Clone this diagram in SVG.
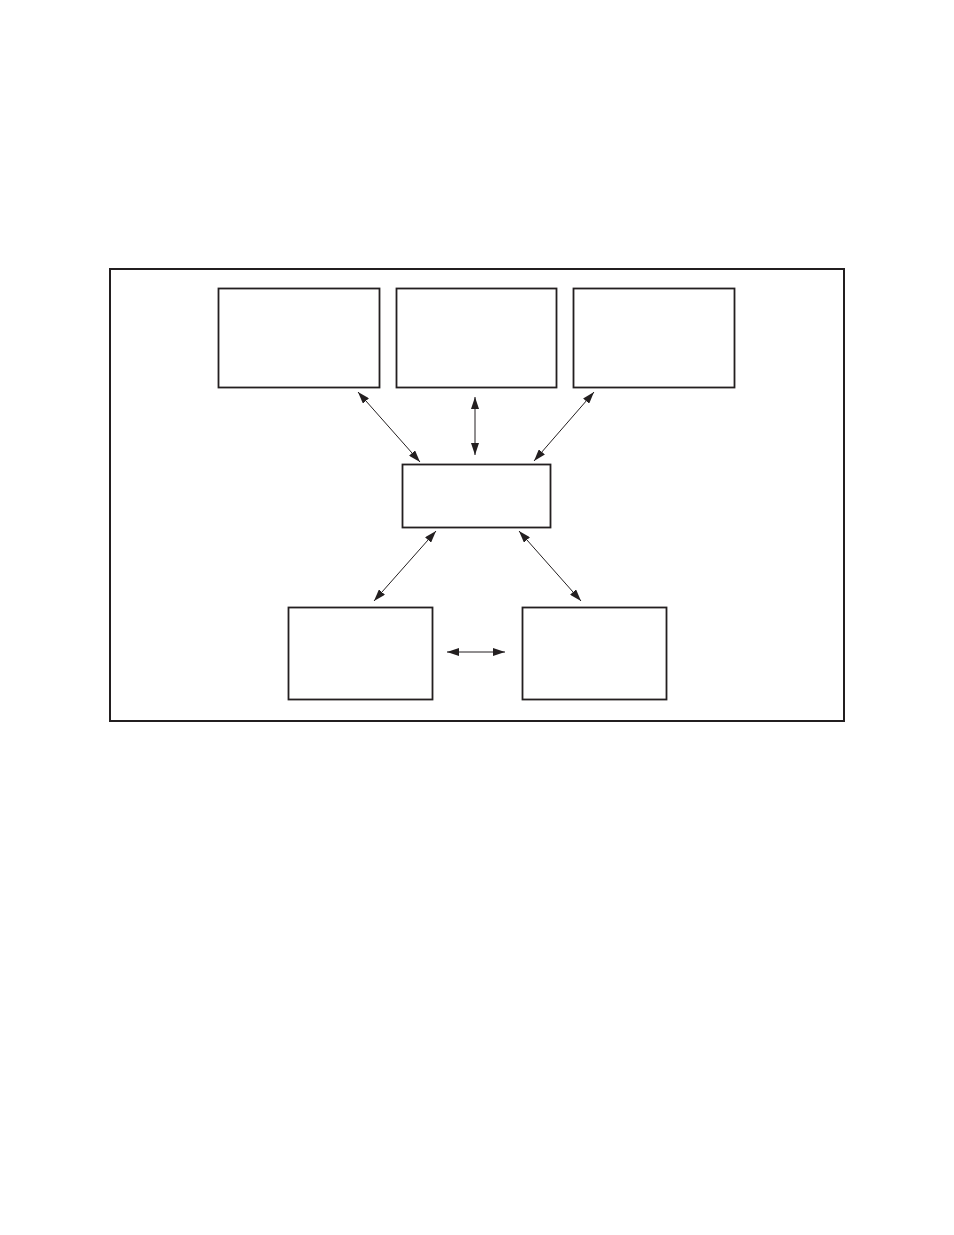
<svg xmlns="http://www.w3.org/2000/svg" width="954" height="1235" viewBox="0 0 954 1235">
<style>
.frame{fill:none;stroke:#231f20;stroke-width:2}
.box{fill:#fff;stroke:#231f20;stroke-width:1.8}
.conn{fill:none;stroke:#231f20;stroke-width:1;marker-start:url(#ah);marker-end:url(#ah)}
</style>
<defs>
<marker id="ah" viewBox="0 0 12 8" refX="12" refY="4" markerWidth="12" markerHeight="8" markerUnits="userSpaceOnUse" orient="auto-start-reverse">
<path d="M0,0 L12,4 L0,8 Z" fill="#231f20"/>
</marker>
</defs>
<rect width="954" height="1235" fill="#fff"/>
<rect id="frame" class="frame" x="110" y="269" width="734" height="452"/>
<g id="node-top-left"><rect class="box" x="218.5" y="288.5" width="161" height="99"/></g>
<g id="node-top-center"><rect class="box" x="396.5" y="288.5" width="160" height="99"/></g>
<g id="node-top-right"><rect class="box" x="573.5" y="288.5" width="161" height="99"/></g>
<g id="node-center"><rect class="box" x="402.5" y="464.5" width="148" height="63"/></g>
<g id="node-bottom-left"><rect class="box" x="288.5" y="607.5" width="144" height="92"/></g>
<g id="node-bottom-right"><rect class="box" x="522.5" y="607.5" width="144" height="92"/></g>
<g id="connectors">
<line class="conn" x1="358" y1="392" x2="420" y2="462"/>
<line class="conn" x1="475" y1="397" x2="475" y2="455"/>
<line class="conn" x1="594" y1="392" x2="534" y2="461"/>
<line class="conn" x1="436" y1="531" x2="374" y2="601"/>
<line class="conn" x1="519" y1="531" x2="581" y2="601"/>
<line class="conn" x1="447" y1="652" x2="505" y2="652"/>
</g>
</svg>
